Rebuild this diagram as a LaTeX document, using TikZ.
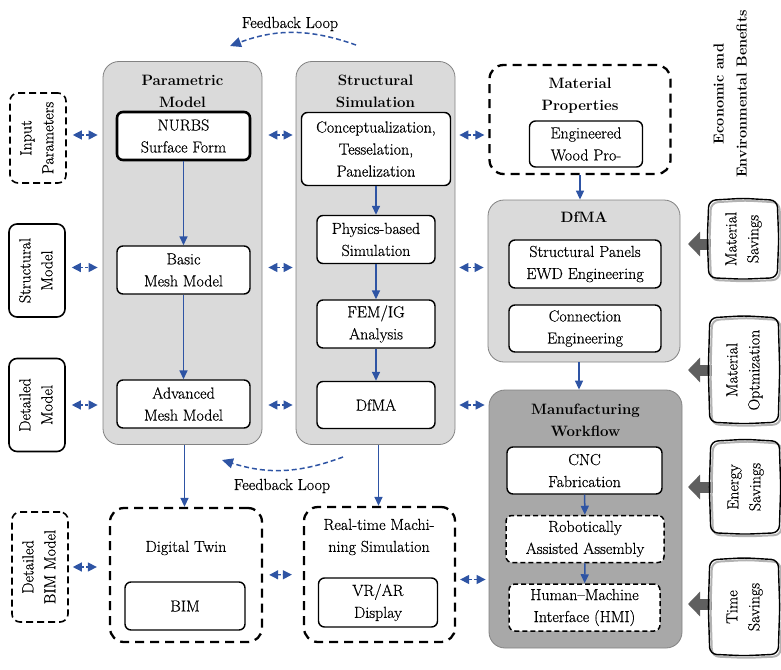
\documentclass[tikz,border=0pt]{standalone}
\usepackage{fontspec}
\setmainfont{Latin Modern Roman}[UprightFeatures={FakeBold=0.5}]
\usepackage{graphicx}
\definecolor{flowblue}{RGB}{46,84,164}
\definecolor{panelgray}{RGB}{218,218,218}
\definecolor{panelline}{RGB}{130,130,130}
\definecolor{darkpanel}{RGB}{168,168,168}
\definecolor{arrowgray}{RGB}{95,95,95}
\usetikzlibrary{arrows.meta,positioning,calc}
\newcommand{\sidetext}[1]{\rotatebox{90}{\begin{tabular}{@{}c@{}}#1\end{tabular}}}
\newcommand{\wobble}[2][]{%
  \draw[rounded corners=7pt, line width=1.4pt, #1]
    (#2.north west) -- ($(#2.north west)!0.5!(#2.north east)+(0,-2)$) -- (#2.north east)
    -- ($(#2.north east)!0.5!(#2.south east)+(1.5,0)$) -- (#2.south east)
    -- ($(#2.south east)!0.5!(#2.south west)+(0,1.5)$) -- (#2.south west)
    -- ($(#2.south west)!0.5!(#2.north west)+(-1.5,0)$) -- cycle;}

\begin{document}
\begin{tikzpicture}[x=1pt, y=-1pt,
  every node/.style={font=\fontsize{16}{22}\selectfont, align=center, inner sep=1pt},
  panel/.style={draw=panelline, fill=panelgray, rounded corners=16pt, line width=0.8pt},
  title/.style={font=\fontsize{15}{22}\selectfont\bfseries},
  bx/.style={draw, fill=white, rounded corners=6pt, line width=1.4pt},
  dbx/.style={bx, dash pattern=on 5pt off 3pt, line width=1.5pt},
  bigdash/.style={draw, fill=white, rounded corners=14pt, line width=2.3pt, dash pattern=on 9pt off 6pt},
  sidebox/.style={draw, rounded corners=8pt, line width=1.6pt, minimum width=56pt},
  flow/.style={draw=flowblue, line width=1.5pt, -{Triangle[length=9pt,width=8pt]}},
  dbl/.style={flowblue, line width=1.3pt, dash pattern=on 3pt off 2pt, {Triangle[length=9pt,width=9pt]}-{Triangle[length=9pt,width=9pt]}},
  fb/.style={flowblue, line width=1.5pt, dash pattern=on 5pt off 3pt, -{Triangle[length=11pt,width=10pt]}},
  bigarrow/.style={arrowgray, line width=11pt, -{Triangle[length=12pt,width=24pt]}},
  benefit/.style={minimum width=68pt, inner sep=0pt}]
\useasboundingbox (0,0) rectangle (781,669);

% Parametric model
\node[panel, minimum width=159pt, minimum height=383pt] (pm) at (182.5,253) {};
\node[title] (pmtitle) at (182.5,91) {Parametric\\Model};
\node[bx, line width=2.6pt, minimum width=133pt, minimum height=48pt] (nurbs) at (183.5,136) {NURBS\\Surface Form};
\node[bx, minimum width=133pt, minimum height=48pt] (basic) at (183.5,270) {Basic\\Mesh Model};
\node[bx, minimum width=133pt, minimum height=48pt] (adv) at (183.5,404) {Advanced\\Mesh Model};
\draw[flow] (nurbs) -- (basic);
\draw[flow] (basic) -- (adv);

% Structural simulation
\node[panel, minimum width=159pt, minimum height=383pt] (ss) at (375.5,253) {};
\node[title] (sstitle) at (375.5,91) {Structural\\Simulation};
\node[bx, minimum width=149pt, minimum height=73pt] (concept) at (376,149) {Conceptualization,\\Tesselation,\\Panelization};
\node[bx, minimum width=118pt, minimum height=48pt] (phys) at (376,239.5) {Physics-based\\Simulation};
\node[bx, minimum width=118pt, minimum height=48pt] (fem) at (376,324) {FEM/IG\\Analysis};
\node[bx, minimum width=118pt, minimum height=47pt] (ssdfma) at (376,405) {DfMA};
\draw[flow] (concept) -- (phys);
\draw[flow] (phys) -- (fem);
\draw[flow] (fem) -- (ssdfma);

% Material properties
\node[bigdash, minimum width=181pt, minimum height=109pt] (matprop) at (580,119.5) {};
\node[title] (mptitle) at (580,95.5) {Material\\Properties};
\node[bx, minimum width=113pt, minimum height=46pt] (ewp) at (586,144) {Engineered\\Wood Pro-};

% DfMA
\node[panel, minimum width=192pt, minimum height=162pt] (dfma) at (584,281) {};
\node[title] (dfmatitle) at (584,217) {DfMA};
\node[bx, minimum width=152pt, minimum height=48pt] (panels) at (585,264) {Structural Panels\\EWD Engineering};
\node[bx, minimum width=152pt, minimum height=47pt] (conn) at (585,328.5) {Connection\\Engineering};
\draw[flow] (matprop.south) -- (matprop.south |- dfma.north);

% Manufacturing workflow
\node[panel, fill=darkpanel, minimum width=193pt, minimum height=258pt] (mw) at (585.5,519) {};
\node[title] (mwtitle) at (585.5,420) {Manufacturing\\Workflow};
\node[bx, minimum width=155pt, minimum height=47pt] (cnc) at (584.5,470.5) {CNC\\Fabrication};
\node[dbx, minimum width=158pt, minimum height=47pt] (robo) at (585,539) {Robotically\\Assisted Assembly};
\node[dbx, minimum width=151pt, minimum height=47pt] (hmi) at (584.5,607.5) {Human--Machine\\Interface (HMI)};
\draw[flow] ([xshift=-5pt]dfma.south) -- ([xshift=-5pt]dfma.south |- mw.north);
\draw[flow] (cnc) -- (robo);
\draw[flow] (robo) -- (hmi);

% Digital twin and machining
\node[bigdash, minimum width=152pt, minimum height=134pt] (dt) at (186,575) {};
\node (dttext) at (186,548) {Digital Twin};
\node[bx, minimum width=120pt, minimum height=48pt] (bim) at (185,606) {BIM};
\node[bigdash, minimum width=151pt, minimum height=135pt] (rt) at (379.5,574.5) {};
\node (rttext) at (379,537) {Real-time Machi-\\ning Simulation};
\node[bx, minimum width=119pt, minimum height=49pt] (vr) at (378,602.5) {VR/AR\\Display};
\draw[flow] ([xshift=2pt]pm.south) -- ([xshift=2pt]pm.south |- dt.north);
\draw[flow] ([xshift=3pt]ss.south) -- ([xshift=3pt]ss.south |- rt.north);

% Left side models
\node[sidebox, dash pattern=on 7pt off 4pt, minimum height=90pt] (inp) at (38,138) {\sidetext{Input\\Parameters}};
\node[sidebox, minimum height=93pt] (stm) at (37,270.5) {\sidetext{Structural\\Model}};
\node[sidebox, minimum height=93pt] (dtm) at (37,405) {\sidetext{Detailed\\Model}};
\node[sidebox, dash pattern=on 7pt off 4pt, minimum height=110pt] (bimm) at (40,567) {\sidetext{Detailed\\BIM Model}};

% Two-way links
\draw[dbl, shorten <=6pt, shorten >=5pt] ([yshift=3pt]inp.east) -- ([yshift=3pt]inp.east -| pm.west);
\draw[dbl, shorten <=6pt, shorten >=5pt] ([yshift=3pt]stm.east) -- ([yshift=3pt]stm.east -| pm.west);
\draw[dbl, shorten <=6pt, shorten >=5pt] (dtm.east) -- (dtm.east -| pm.west);
\draw[dbl, shorten <=6pt, shorten >=3pt] ([yshift=3pt]pm.east |- inp) -- ([yshift=3pt]ss.west |- inp);
\draw[dbl, shorten <=6pt, shorten >=3pt] ([yshift=3pt]pm.east |- stm) -- ([yshift=3pt]ss.west |- stm);
\draw[dbl, shorten <=6pt, shorten >=3pt] (pm.east |- dtm) -- (ss.west |- dtm);
\draw[dbl, shorten <=4pt, shorten >=4pt] ([yshift=3pt]ss.east |- inp) -- ([yshift=3pt]matprop.west |- inp);
\draw[dbl, shorten <=4pt, shorten >=4pt] ([yshift=3pt]ss.east |- stm) -- ([yshift=3pt]dfma.west |- stm);
\draw[dbl, shorten <=4pt, shorten >=4pt] (ss.east |- dtm) -- (mw.west |- dtm);
\draw[dbl, shorten <=4pt, shorten >=12pt] (bimm.east) -- (bimm.east -| dt.west);
\draw[dbl, shorten <=6pt, shorten >=11pt] (dt.east) -- (rt.west);
\draw[dbl, shorten <=4pt, shorten >=3pt] ([yshift=-5pt]rt.east) -- ([yshift=-5pt]rt.east -| mw.west);

% Feedback loops
\coordinate (fbtopa) at (356,45);
\coordinate (fbtopb) at (230,46);
\coordinate (fbbota) at (343,457);
\coordinate (fbbotb) at (222,460);
\draw[fb] (fbtopa) to[bend right=20] (fbtopb);
\draw[fb] (fbbota) to[bend left=19] (fbbotb);
\node (fbtop) at (290,24) {Feedback Loop};
\node (fbbot) at (282,486) {Feedback Loop};

% Benefits
\node[title, rotate=90, font=\fontsize{14.5}{23}\selectfont\bfseries] (econ) at (730,94) {Economic and\\Environmental Benefits};
\node[benefit, minimum height=77pt] (msav) at (743,239) {\sidetext{Material\\Savings}};
\node[benefit, minimum height=104pt] (mopt) at (744,370) {\sidetext{Material\\Optmization}};
\node[benefit, minimum height=91pt] (esav) at (745,487) {\sidetext{Energy\\Savings}};
\node[benefit, minimum height=94pt] (tsav) at (744,607) {\sidetext{Time\\Savings}};
\coordinate (msavtip) at (688,244);
\coordinate (mopttip) at (688,370);
\coordinate (esavtip) at (688,487);
\coordinate (tsavtip) at (688,604);
\draw[bigarrow] ([xshift=2pt]msav.west |- msavtip) -- (msavtip);
\draw[bigarrow] ([xshift=2pt]mopt.west |- mopttip) -- (mopttip);
\draw[bigarrow] ([xshift=2pt]esav.west |- esavtip) -- (esavtip);
\draw[bigarrow] ([xshift=2pt]tsav.west |- tsavtip) -- (tsavtip);
\foreach \b in {msav,mopt,esav,tsav}{
  \begin{scope}[transform canvas={shift={(2.2,2.2)}}]
    \wobble[gray!60, line width=2pt]{\b}
  \end{scope}
  \wobble{\b}
}
\end{tikzpicture}
\end{document}
